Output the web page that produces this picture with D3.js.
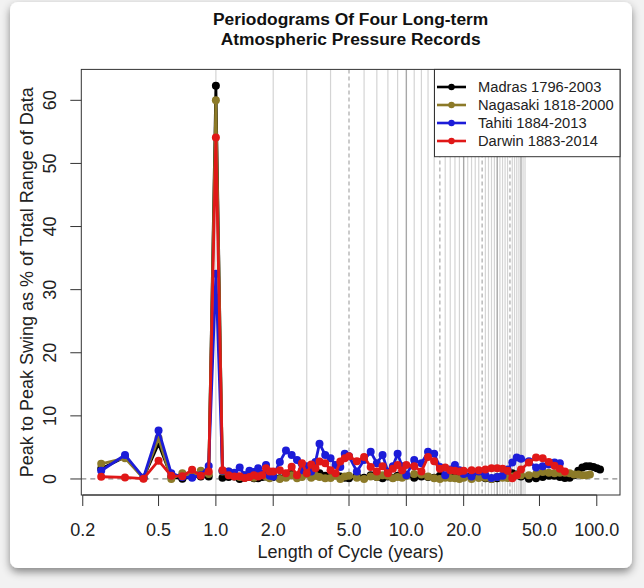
<!DOCTYPE html>
<html>
<head>
<meta charset="utf-8">
<script src="https://cdn.jsdelivr.net/npm/d3@7"></script>
<style>
  html, body { margin: 0; padding: 0; background: #ffffff; }
  svg { display: block; font-family: "Liberation Sans", Arial, Helvetica, sans-serif; }
</style>
</head>
<body>
<svg id="chart" width="644" height="588"></svg>
<script>
// ---------------- DATA ----------------
const periods = [
  0.25, 0.3333, 0.4167, 0.5, 0.5833, 0.6667, 0.75, 0.8333, 0.9167, 1.0,
  1.0833, 1.1667, 1.25, 1.3333, 1.4167, 1.5, 1.5833, 1.6667, 1.75, 1.8333,
  1.9167, 2.0, 2.1667, 2.3333, 2.5, 2.6667, 2.8333, 3.0, 3.1667, 3.3333,
  3.5, 3.75, 4.0, 4.25, 4.5, 4.75, 5.0, 5.5, 6.0, 6.5,
  7.0, 7.5, 8.0, 8.5, 9.0, 9.5, 10, 11, 12, 13,
  14, 15, 16, 17, 18, 19, 20, 22, 24, 26,
  28, 30, 32, 34, 36, 38, 40, 44, 48, 52,
  56, 60, 64, 68, 72, 76, 80, 84, 88, 92,
  96, 100, 104
];

const madras = [
  1.6, 3.5, 0.2, 5.6, 0.3, 0.05, 0.3, 0.4, 0.4, 62.3,
  0.2, 0.3, 0.4, 0.0, 0.2, 0.3, 0.1, 0.1, 0.3, 0.4,
  0.6, 0.3, 0.1, 0.5, 0.8, 0.4, 1.0, 1.6, 1.8, 0.6,
  0.9, 0.5, 0.3, 0.8, 0.4, 0.2, 0.1, 0.5, 0.2, 0.6,
  0.3, 0.1, 0.4, 0.2, 0.5, 0.3, 0.6, 0.2, 0.4, 0.3,
  0.2, 0.5, 0.3, 0.4, 0.6, 0.5, 0.7, 0.5, 0.3, 0.1,
  0.0, 0.1, 0.3, 0.6, 0.9, 0.7, 0.4, 0.05, 0.1, 0.3,
  0.5, 0.5, 0.3, 0.15, 0.2, 0.6, 1.3, 1.8, 2.0, 2.0,
  1.9, 1.7, 1.5
];

const nagasaki = [
  2.4, 3.3, 0.1, 6.5, 0.0, 0.9, 0.5, 1.3, 0.8, 60.0,
  1.2, 1.2, 0.5, 0.3, 0.6, 0.4, 0.2, 0.5, 0.8, 0.4,
  0.1, 0.5, 0.0, 0.2, 0.6, 0.1, 0.3, 0.8, 0.2, 0.5,
  0.3, 0.1, 0.15, 0.5, 0.0, 0.4, 0.5, 0.2, 0.0, 0.4,
  0.3, 0.6, 0.5, 0.1, 0.3, 0.2, 0.5, 0.8, 0.7, 0.4,
  0.1, 0.0, 0.2, 0.15, 0.1, 0.0, 0.2, 0.0, 0.15, 0.2,
  0.0, 0.3, 0.2, 0.15, 0.4, 0.6, 0.6, 0.6, 0.8, 1.1,
  1.0, 0.9, 1.0, 1.0, 0.9, 0.7, 0.7, 0.6, 0.6, 0.7
];

const tahiti = [
  1.3, 3.8, 0.2, 7.7, 0.9, 0.3, 0.2, 0.6, 2.05, 32.5,
  1.3, 1.2, 1.0, 1.8, 0.6, 1.3, 1.1, 1.7, 0.8, 2.2,
  0.5, 0.4, 2.7, 4.5, 3.8, 3.0, 1.4, 2.0, 1.2, 2.7,
  5.6, 3.8, 3.3, 2.2, 1.9, 4.0, 3.6, 1.2, 3.0, 4.3,
  2.5, 3.8, 1.2, 2.0, 4.0, 2.0, 0.6, 3.0, 2.5, 4.3,
  4.0, 1.9, 0.6, 1.5, 2.2, 1.4, 0.8, 0.4, 1.2, 0.6,
  0.15, 0.3, 0.5, 1.5, 2.6, 3.4, 3.2, 2.8, 1.8, 2.0,
  2.3, 2.6, 2.5
];

const darwin = [
  0.35, 0.25, 0.05, 2.9, 0.5, 0.45, 1.45, 0.5, 1.2, 54.1,
  1.4, 0.6, 0.4, 0.45, 0.15, 0.3, 0.6, 0.4, 0.6, 1.7,
  1.2, 1.2, 1.4, 0.9, 1.95, 0.6, 2.5, 0.9, 2.3, 1.7,
  2.75, 2.5, 1.4, 0.9, 2.75, 3.3, 3.6, 2.8, 3.5, 1.9,
  1.2, 2.0, 0.9, 1.6, 2.2, 1.4, 2.2, 2.0, 1.2, 3.5,
  2.8, 1.6, 1.8, 1.4, 1.3, 1.2, 1.3, 1.4, 1.4, 1.5,
  1.7, 1.7, 1.6, 1.3, 0.1, 0.6, 1.5, 2.6, 3.4, 3.3,
  2.7, 2.1, 1.6, 1.2
];

const seriesNames = ["Madras 1796-2003", "Nagasaki 1818-2000", "Tahiti 1884-2013", "Darwin 1883-2014"];
const seriesValues = [madras, nagasaki, tahiti, darwin];
const seriesColors = ["#000000", "#8c7a28", "#1c1cd8", "#e01818"];

const xTicks = [0.2, 0.5, 1, 2, 5, 10, 20, 50, 100];
const yTicks = [0, 10, 20, 30, 40, 50, 60];
const gridYears = d3.range(1, 43);

const titleLines = ["Periodograms Of Four Long-term", "Atmospheric Pressure Records"];
const xTitle = "Length of Cycle (years)";
const yTitle = "Peak to Peak Swing as % of Total Range of Data";

// ---------------- LAYOUT ----------------
const svg = d3.select("#chart");
const L = 81.3, R = 620, T = 69.4, B = 495;

const x = d3.scaleLog().domain([0.1965, 132.4]).range([L, R]);
const y = d3.scaleLinear().domain([-2.54, 64.9]).range([B, T]);

// card with shadow
const defs = svg.append("defs");
const f = defs.append("filter").attr("id", "shadow").attr("x", "-10%").attr("y", "-10%").attr("width", "120%").attr("height", "125%");
f.append("feDropShadow").attr("dx", 0).attr("dy", 4).attr("stdDeviation", 4).attr("flood-color", "#000").attr("flood-opacity", 0.45);
svg.append("rect").attr("x", 0).attr("y", 0).attr("width", 644).attr("height", 588).attr("fill", "#f2f2f2");
svg.append("rect").attr("x", 10).attr("y", 2).attr("width", 622).attr("height", 566).attr("rx", 8)
  .attr("fill", "#ffffff").attr("filter", "url(#shadow)");

defs.append("clipPath").attr("id", "plotclip").append("rect")
  .attr("x", L).attr("y", T).attr("width", R - L).attr("height", B - T);

const plot = svg.append("g").attr("clip-path", "url(#plotclip)");

// vertical gridlines
plot.selectAll("line.grid").data(gridYears).enter().append("line")
  .attr("class", "grid")
  .attr("x1", d => x(d)).attr("x2", d => x(d))
  .attr("y1", T).attr("y2", B)
  .attr("stroke", d => d % 5 === 0 ? "#a8a8a8" : "#d4d4d4")
  .attr("stroke-width", d => d % 10 === 0 ? 1.4 : 1.2)
  .attr("stroke-dasharray", d => (d % 5 === 0 && d % 10 !== 0) ? "4,3" : null);

// zero line
plot.append("line")
  .attr("x1", L).attr("x2", R).attr("y1", y(0)).attr("y2", y(0))
  .attr("stroke", "#8a8a8a").attr("stroke-width", 1.2).attr("stroke-dasharray", "5,4");

// series
const line = d3.line().x(d => x(d.p)).y(d => y(d.v));
seriesValues.forEach((vals, si) => {
  const data = vals.map((v, i) => ({ p: periods[i], v: v }));
  const g = plot.append("g");
  g.append("path").datum(data).attr("d", line)
    .attr("fill", "none").attr("stroke", seriesColors[si]).attr("stroke-width", 2.8)
    .attr("stroke-linejoin", "round");
  g.selectAll("circle").data(data).enter().append("circle")
    .attr("cx", d => x(d.p)).attr("cy", d => y(d.v)).attr("r", 4)
    .attr("fill", seriesColors[si]);
});

// box
svg.append("rect").attr("x", L).attr("y", T).attr("width", R - L).attr("height", B - T)
  .attr("fill", "none").attr("stroke", "#333").attr("stroke-width", 1);

// x axis
const xa = svg.append("g");
xa.selectAll("line").data(xTicks).enter().append("line")
  .attr("x1", d => x(d)).attr("x2", d => x(d)).attr("y1", B).attr("y2", B + 11)
  .attr("stroke", "#333").attr("stroke-width", 1);
xa.append("line").attr("x1", x(xTicks[0])).attr("x2", x(xTicks[xTicks.length - 1]))
  .attr("y1", B).attr("y2", B).attr("stroke", "#333");
xa.selectAll("text").data(xTicks).enter().append("text")
  .attr("x", d => x(d)).attr("y", 535.5).attr("text-anchor", "middle")
  .attr("font-size", 18).attr("fill", "#222").text(d => d.toFixed(1));
svg.append("text").attr("x", (L + R) / 2).attr("y", 557.5).attr("text-anchor", "middle")
  .attr("font-size", 18).attr("fill", "#222").text(xTitle);

// y axis
const ya = svg.append("g");
ya.selectAll("line").data(yTicks).enter().append("line")
  .attr("x1", L - 11).attr("x2", L).attr("y1", d => y(d)).attr("y2", d => y(d))
  .attr("stroke", "#333").attr("stroke-width", 1);
ya.selectAll("text").data(yTicks).enter().append("text")
  .attr("transform", d => `translate(55.5,${y(d)}) rotate(-90)`)
  .attr("text-anchor", "middle").attr("font-size", 18).attr("fill", "#222").text(d => d);
svg.append("text").attr("transform", `translate(32.5,${(T + B) / 2}) rotate(-90)`)
  .attr("text-anchor", "middle").attr("font-size", 18).attr("fill", "#222").text(yTitle);

// title
svg.selectAll("text.title").data(titleLines).enter().append("text")
  .attr("class", "title")
  .attr("x", (L + R) / 2).attr("y", (d, i) => 25 + i * 20)
  .attr("text-anchor", "middle").attr("font-size", 17.4).attr("font-weight", "bold").attr("fill", "#111")
  .text(d => d);

// legend
const lg = svg.append("g");
lg.append("rect").attr("x", 434.5).attr("y", T).attr("width", R - 434.5).attr("height", 156.7 - T)
  .attr("fill", "#fff").attr("stroke", "#333").attr("stroke-width", 1);
seriesNames.forEach((name, i) => {
  const cy = 87 + i * 18;
  lg.append("line").attr("x1", 437).attr("x2", 466).attr("y1", cy).attr("y2", cy)
    .attr("stroke", seriesColors[i]).attr("stroke-width", 2.6);
  lg.append("circle").attr("cx", 451.5).attr("cy", cy).attr("r", 3.2).attr("fill", seriesColors[i]);
  lg.append("text").attr("x", 478).attr("y", cy).attr("dy", "0.35em")
    .attr("font-size", 14.7).attr("fill", "#222").text(name);
});
</script>
</body>
</html>
